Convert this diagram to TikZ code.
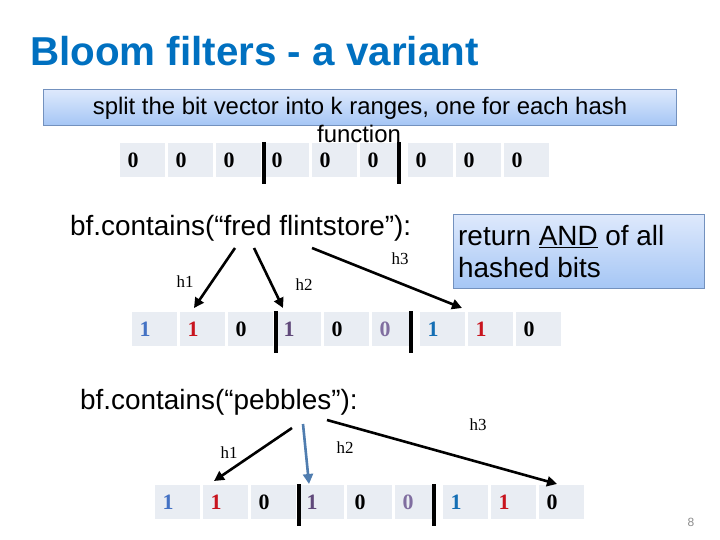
\documentclass[tikz,border=0pt]{standalone}
\usepackage{fontspec}
\setmainfont{Liberation Sans}
\newfontfamily\serifface{Liberation Serif}
\usetikzlibrary{arrows.meta}
\definecolor{titleblue}{RGB}{0,112,192}
\definecolor{cellfill}{RGB}{233,237,243}
\definecolor{boxtop}{RGB}{222,233,252}
\definecolor{boxbot}{RGB}{165,198,245}
\definecolor{boxborder}{RGB}{115,145,190}
\definecolor{dblue}{RGB}{68,114,196}
\definecolor{dred}{RGB}{200,20,30}
\definecolor{dpurple}{RGB}{96,73,122}
\definecolor{dlav}{RGB}{128,110,160}
\definecolor{dteal}{RGB}{20,110,180}
\definecolor{steel}{RGB}{80,125,175}
\definecolor{pagegray}{RGB}{140,140,140}
\tikzset{
  cellbox/.style={rectangle, fill=cellfill, inner sep=0pt, minimum height=34bp, anchor=north west},
  digit/.style={font=\serifface\bfseries\fontsize{22}{24}\selectfont, inner sep=0pt},
  divider/.style={line width=4bp},
  harrow/.style={line width=2.6bp, -{Triangle[length=10bp,width=10bp]}},
  hlab/.style={font=\serifface\fontsize{17}{20}\selectfont, inner sep=0pt},
  bluebox/.style={draw=boxborder, line width=0.8bp, top color=boxtop, bottom color=boxbot, inner sep=0pt, anchor=north west},
  bigtext/.style={font=\fontsize{28}{32}\selectfont, inner sep=0pt},
}
\newcommand{\bitrow}[5]{%
  \foreach \d [count=\i, evaluate=\i as \xl using {#2+48*(\i-1)}] in {#4} {
    \pgfmathsetmacro{\mycellw}{\i==6 ? 37 : 45}
    \node[cellbox, minimum width=\mycellw bp] (#1c\i) at (\xl,#3) {};
  }
  \foreach \d [count=\i, evaluate=\i as \xl using {#2+48*(\i-1)+13}] in {#4} {
    \pgfmathparse{{#5}[\i-1]}\edef\dcol{\pgfmathresult}
    \node[digit, text=\dcol] (#1d\i) at (\xl,#3+17) {\d};
  }
  \coordinate (#1da) at (#2+144,#3-1);
  \coordinate (#1db) at (#2+144,#3+41);
  \coordinate (#1ea) at (#2+279,#3-1);
  \coordinate (#1eb) at (#2+279,#3+41);
  \draw[divider] (#1da) -- (#1db);
  \draw[divider] (#1ea) -- (#1eb);
}
\begin{document}
\begin{tikzpicture}[x=1bp,y=-1bp]
\useasboundingbox (0,0) rectangle (720,540);
% title
\node[font=\bfseries\fontsize{40.5}{46}\selectfont, text=titleblue, anchor=base west, inner sep=0pt] (title) at (30,66) {Bloom filters - a variant};
% top box
\node[bluebox, minimum width=633bp, minimum height=36bp] (splitbox) at (43,89) {};
\node[font=\fontsize{24}{28}\selectfont, anchor=base, inner sep=0pt] (split1) at (360,115) {split the bit vector into k ranges, one for each hash};
\node[font=\fontsize{24}{28}\selectfont, anchor=base, inner sep=0pt] (split2) at (359,143) {function};
% row 1
\bitrow{ra}{120}{143}{0,0,0,0,0,0,0,0,0}{"black","black","black","black","black","black","black","black","black"}
% fred flintstore
\node[bigtext, anchor=base west] (bf1) at (70,236) {bf.contains(“fred flintstore”):};
\node[bluebox, minimum width=251bp, minimum height=74bp] (andbox) at (453,214) {};
\node[bigtext, anchor=base west] (and1) at (458,246) {return \underline{AND} of all};
\node[bigtext, anchor=base west] (and2) at (458,278) {hashed bits};
% row 2
\bitrow{rb}{132}{312}{1,1,0,1,0,0,1,1,0}{"dblue","dred","black","dpurple","black","dlav","dteal","dred","black"}
\coordinate (b1s) at (235,248); \coordinate (b1e) at (194,308);
\coordinate (b2s) at (254,248); \coordinate (b2e) at (283,308);
\coordinate (b3s) at (312,248); \coordinate (b3e) at (462,308);
\draw[harrow] (b1s) -- (b1e);
\draw[harrow] (b2s) -- (b2e);
\draw[harrow] (b3s) -- (b3e);
\node[hlab] (bh1) at (185,282) {h1};
\node[hlab] (bh2) at (304,285) {h2};
\node[hlab] (bh3) at (400,259) {h3};
% pebbles
\node[bigtext, anchor=base west] (bf2) at (80,409) {bf.contains(“pebbles”):};
\bitrow{rc}{155}{485}{1,1,0,1,0,0,1,1,0}{"dblue","dred","black","dpurple","black","dlav","dteal","dred","black"}
\coordinate (c1s) at (292,428); \coordinate (c1e) at (214,481);
\coordinate (c2s) at (303,424); \coordinate (c2e) at (309,484);
\coordinate (c3s) at (327,420); \coordinate (c3e) at (557,484);
\draw[harrow] (c1s) -- (c1e);
\draw[harrow, draw=steel, fill=steel] (c2s) -- (c2e);
\draw[harrow] (c3s) -- (c3e);
\node[hlab] (ch1) at (229,453) {h1};
\node[hlab] (ch2) at (345,448) {h2};
\node[hlab] (ch3) at (478,425) {h3};
% page number
\node[font=\fontsize{12}{14}\selectfont, text=pagegray, inner sep=0pt] (pnum) at (691,522) {8};
\end{tikzpicture}
\end{document}
